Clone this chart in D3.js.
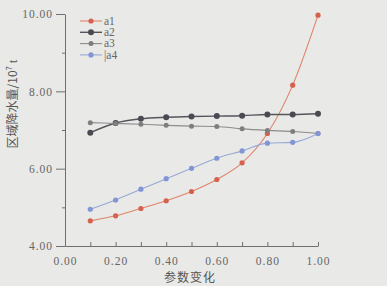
<!doctype html>
<html>
<head>
	<style>
		body{margin:0;background:#e9e9e7;}
		svg{display:block;}
		.axis path,.axis line{stroke:#6f6f6f;stroke-width:1;}
	</style>
</head>
<body>
	<div id="root"></div>
	<script src="https://d3js.org/d3.v7.min.js"></script>
	<script>
		var W = 387, H = 286;
		var SERIF = '"Liberation Serif", "DejaVu Serif", "Times New Roman", serif';

		var xs = [0.1, 0.2, 0.3, 0.4, 0.5, 0.6, 0.7, 0.8, 0.9, 1.0];
		var a1 = [4.65, 4.78, 4.97, 5.17, 5.41, 5.72, 6.15, 6.91, 8.16, 9.97];
		var a2 = [6.93, 7.18, 7.29, 7.33, 7.35, 7.36, 7.37, 7.40, 7.40, 7.42];
		var a3 = [7.19, 7.17, 7.15, 7.12, 7.10, 7.09, 7.03, 6.99, 6.96, 6.91];
		var a4 = [4.95, 5.19, 5.47, 5.74, 6.01, 6.27, 6.46, 6.66, 6.68, 6.91];
		var names = ['a1', 'a2', 'a3', 'a4'];
		var xTicks = [0, 0.1, 0.2, 0.3, 0.4, 0.5, 0.6, 0.7, 0.8, 0.9, 1.0];
		var yMajor = [4, 6, 8, 10];
		var yMinor = [5, 7, 9];

		var series = [
			{name: names[0], vals: a1, line: '#e0846a', dot: '#d5614e', r: 2.6},
			{name: names[1], vals: a2, line: '#55565c', dot: '#4a4b52', r: 3},
			{name: names[2], vals: a3, line: '#8c8c8c', dot: '#7e7e7e', r: 2.5},
			{name: names[3], vals: a4, line: '#98a9d6', dot: '#8296d6', r: 2.6}
		];

		var x = d3.scaleLinear().domain([0, 1]).range([65, 318]);
		var y = d3.scaleLinear().domain([4, 10]).range([246, 14]);

		var svg = d3.select('#root').append('svg')
			.attr('width', W)
			.attr('height', H);

		// x axis, ticks pointing up
		var xa = svg.append('g')
			.attr('class', 'axis')
			.attr('transform', 'translate(0,' + y(4) + ')')
			.call(d3.axisBottom(x)
				.tickValues(xTicks)
				.tickSizeInner(-4)
				.tickSizeOuter(0)
				.tickPadding(11)
				.tickFormat(function(d, i){ return i % 2 === 0 ? d3.format('.2f')(d) : ''; }));

		// y axis major + minor
		var ya = svg.append('g')
			.attr('class', 'axis')
			.attr('transform', 'translate(' + x(0) + ',0)')
			.call(d3.axisLeft(y)
				.tickValues(yMajor)
				.tickSizeInner(9)
				.tickSizeOuter(0)
				.tickPadding(3)
				.tickFormat(d3.format('.2f')));
		svg.append('g')
			.attr('class', 'axis')
			.attr('transform', 'translate(' + x(0) + ',0)')
			.call(d3.axisLeft(y)
				.tickValues(yMinor)
				.tickSizeInner(3)
				.tickSizeOuter(0)
				.tickFormat(''))
			.select('.domain').remove();

		[xa, ya].forEach(function(a){
			a.attr('font-family', SERIF).attr('font-size', 11.5);
			a.selectAll('text')
				.attr('fill', '#666')
				.style('letter-spacing', '1px');
		});

		var line = d3.line()
			.x(function(d, i){ return x(xs[i]); })
			.y(function(d){ return y(d); })
			.curve(d3.curveMonotoneX);

		var g = svg.selectAll('.series')
			.data(series)
			.enter().append('g')
			.attr('class', 'series');

		g.append('path')
			.attr('d', function(s){ return line(s.vals); })
			.attr('fill', 'none')
			.attr('stroke', function(s){ return s.line; })
			.attr('stroke-width', function(s){ return s.name === 'a2' ? 1.4 : 1.1; });

		g.selectAll('circle')
			.data(function(s){ return s.vals.map(function(v, i){ return {x: xs[i], y: v, s: s}; }); })
			.enter().append('circle')
			.attr('cx', function(d){ return x(d.x); })
			.attr('cy', function(d){ return y(d.y); })
			.attr('r', function(d){ return d.s.r; })
			.attr('fill', function(d){ return d.s.dot; });

		// legend
		var leg = svg.append('g').attr('transform', 'translate(80,21)');
		var row = leg.selectAll('g')
			.data(series)
			.enter().append('g')
			.attr('transform', function(d, i){ return 'translate(0,' + i * 11.3 + ')'; });
		row.append('line')
			.attr('x1', 0).attr('x2', 22)
			.attr('stroke', function(d){ return d.line; })
			.attr('stroke-width', function(d){ return d.name === 'a2' ? 1.4 : 1.1; });
		row.append('circle')
			.attr('cx', 11)
			.attr('r', function(d){ return d.r; })
			.attr('fill', function(d){ return d.dot; });
		row.append('text')
			.attr('x', 24)
			.attr('dy', '0.33em')
			.attr('font-family', SERIF)
			.attr('font-size', 11.5)
			.attr('fill', '#666')
			.text(function(d){ return d.name === 'a4' ? '|a4' : d.name; });

		// axis titles
		svg.append('text')
			.attr('x', 190)
			.attr('y', 282)
			.attr('text-anchor', 'middle')
			.attr('font-family', '"Noto Sans CJK SC", sans-serif')
			.attr('font-size', 12)
			.attr('fill', '#555')
			.style('letter-spacing', '1px')
			.text('参数变化');

		var yl = svg.append('text')
			.attr('transform', 'translate(17,104) rotate(-90)')
			.attr('text-anchor', 'middle')
			.attr('font-family', '"Noto Sans CJK SC", sans-serif')
			.attr('font-size', 12)
			.attr('fill', '#555');
		yl.append('tspan').text('区域降水量/10');
		yl.append('tspan').attr('dy', -5).attr('font-size', 8).text('7');
		yl.append('tspan').attr('dy', 5).attr('font-family', SERIF).text(' t');
	</script>
</body>
</html>
